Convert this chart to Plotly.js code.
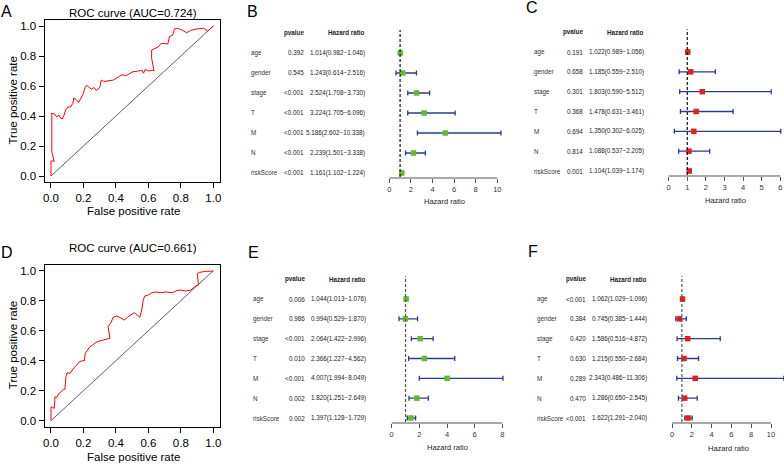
<!DOCTYPE html>
<html>
<head>
<meta charset="utf-8">
<script src="https://cdn.plot.ly/plotly-3.0.1.min.js"></script>
<style>html,body{margin:0;padding:0;background:#fff;}#chart{width:784px;height:464px;}</style>
</head>
<body>
<div id="chart"></div>
<script>
// ---------- DATA ----------
// ROC curve A (AUC=0.724)
const rocA_fpr = [0,0,0.015,0.02,0.01,0.005,0.005,0.025,0.035,0.05,0.06,0.07,0.08,0.09,0.105,0.12,0.135,0.14,0.155,0.17,0.18,0.195,0.21,0.22,0.235,0.25,0.265,0.28,0.30,0.31,0.325,0.355,0.385,0.415,0.435,0.465,0.505,0.54,0.56,0.57,0.58,0.60,0.625,0.635,0.62,0.62,0.64,0.66,0.68,0.70,0.72,0.73,0.75,0.76,0.775,0.805,0.835,0.86,0.895,0.94,0.965,0.985,1];
const rocA_tpr = [0,0.10,0.10,0.095,0.14,0.16,0.42,0.41,0.395,0.405,0.385,0.38,0.405,0.44,0.46,0.46,0.485,0.52,0.51,0.49,0.51,0.54,0.59,0.605,0.59,0.58,0.59,0.57,0.59,0.64,0.63,0.635,0.64,0.66,0.675,0.67,0.695,0.70,0.705,0.685,0.71,0.70,0.705,0.70,0.785,0.84,0.85,0.86,0.885,0.885,0.88,0.93,0.94,0.98,0.985,0.975,0.955,0.97,0.98,0.985,0.965,0.985,1];
// ROC curve D (AUC=0.661)
const rocD_fpr = [0,0,0.01,0.02,0.025,0.035,0.047,0.06,0.076,0.086,0.092,0.10,0.117,0.13,0.143,0.158,0.174,0.195,0.205,0.211,0.225,0.24,0.256,0.277,0.297,0.328,0.363,0.352,0.369,0.383,0.404,0.424,0.451,0.471,0.492,0.512,0.533,0.547,0.559,0.568,0.578,0.60,0.621,0.645,0.676,0.707,0.748,0.773,0.799,0.83,0.861,0.871,0.891,0.908,0.906,0.902,0.916,0.953,0.984,1];
const rocD_tpr = [0,0.093,0.089,0.082,0.16,0.153,0.18,0.19,0.21,0.21,0.293,0.32,0.315,0.34,0.355,0.37,0.393,0.40,0.398,0.449,0.471,0.493,0.504,0.522,0.531,0.538,0.549,0.627,0.653,0.689,0.698,0.689,0.671,0.689,0.704,0.72,0.704,0.689,0.738,0.804,0.831,0.838,0.853,0.858,0.853,0.858,0.853,0.867,0.871,0.864,0.871,0.88,0.898,0.904,0.96,0.982,0.989,0.996,0.996,1];
const diagX = [0,1];
const diagY = [0,1];

// Forest tables
const varNames = ['age','gender','stage','T','M','N','riskScore'];

// B
const pB  = ['0.392','0.545','<0.001','<0.001','<0.001','<0.001','<0.001'];
const hrB = [1.014,1.243,2.524,3.224,5.186,2.239,1.161];
const loB = [0.982,0.614,1.708,1.705,2.602,1.501,1.102];
const hiB = [1.046,2.516,3.730,6.096,10.338,3.338,1.224];
// C
const pC  = ['0.191','0.658','0.301','0.368','0.694','0.814','0.001'];
const hrC = [1.022,1.185,1.803,1.478,1.350,1.088,1.104];
const loC = [0.989,0.559,0.590,0.631,0.302,0.537,1.039];
const hiC = [1.056,2.510,5.512,3.461,6.025,2.205,1.174];
// E
const pE  = ['0.006','0.986','<0.001','0.010','<0.001','0.002','0.002'];
const hrE = [1.044,0.994,2.064,2.366,4.007,1.820,1.397];
const loE = [1.013,0.529,1.422,1.227,1.994,1.251,1.128];
const hiE = [1.076,1.870,2.996,4.562,8.049,2.649,1.729];
// F
const pF  = ['<0.001','0.384','0.420','0.630','0.289','0.470','<0.001'];
const hrF = [1.062,0.745,1.586,1.215,2.343,1.286,1.622];
const loF = [1.029,0.385,0.516,0.550,0.486,0.650,1.291];
const hiF = [1.096,1.444,4.872,2.684,11.306,2.545,2.040];

const ticksB = [0,2,4,6,8,10];
const ticksC = [0,1,2,3,4,5,6];
const ticksE = [0,2,4,6,8];
const ticksF = [0,2,4,6,8,10];

const rocTicks = [0,0.2,0.4,0.6,0.8,1.0];

// ---------- LAYOUT HELPERS ----------
const W = 784, H = 464;
const px = x => x / W;
const py = y => 1 - y / H;
const FONT = 'Liberation Sans, Arial, Helvetica, sans-serif';
const GREEN = '#63b92f', RED = '#e81e1e', NAVY = '#2d3b8e';

const traces = [];
const annotations = [];
const shapes = [];
const layout = {
  width: W, height: H,
  margin: {l:0, r:0, t:0, b:0, pad:0},
  paper_bgcolor: '#fff', plot_bgcolor: 'rgba(0,0,0,0)',
  showlegend: false,
  font: {family: FONT, color: '#000'},
};

function rocAxes(xn, yn, yTop, yBot) {
  layout['xaxis' + xn] = {
    domain: [px(44.5), px(219.8)], range: [-0.04, 1.04], anchor: 'y' + yn,
    showline: true, mirror: true, linecolor: '#000', linewidth: 1,
    ticks: 'outside', ticklen: 5, tickwidth: 1, tickcolor: '#000',
    tickvals: rocTicks, tickformat: '.1f', tickfont: {size: 11.5, color: '#000', family: FONT},
    showgrid: false, zeroline: false, automargin: false, fixedrange: true
  };
  layout['yaxis' + yn] = {
    domain: [py(yBot), py(yTop)], range: [-0.04, 1.04], anchor: 'x' + xn,
    showline: true, mirror: true, linecolor: '#000', linewidth: 1,
    ticks: 'outside', ticklen: 5, tickwidth: 1, tickcolor: '#000',
    tickvals: rocTicks, tickformat: '.1f', tickfont: {size: 11.5, color: '#000', family: FONT},
    showgrid: false, zeroline: false, automargin: false, fixedrange: true
  };
}

function addRoc(n, fpr, tpr, yTop, yBot, title, titleY, xTitleY) {
  const xn = n === 1 ? '' : String(n);
  rocAxes(xn, xn, yTop, yBot);
  const xa = 'x' + xn, ya = 'y' + xn;
  traces.push({type:'scatter', mode:'lines', x: diagX, y: diagY, xaxis: xa, yaxis: ya,
    line: {color:'#333', width: 0.8}, hoverinfo:'skip'});
  traces.push({type:'scatter', mode:'lines', x: fpr, y: tpr, xaxis: xa, yaxis: ya,
    line: {color:'#ff0000', width: 1}, hoverinfo:'skip'});
  annotations.push({xref:'paper', yref:'paper', x: px(133), y: py(titleY), text: title,
    showarrow:false, xanchor:'center', yanchor:'middle', font:{size:11.5, family:FONT, color:'#000'}});
  annotations.push({xref:'paper', yref:'paper', x: px(133), y: py(xTitleY), text: 'False positive rate',
    showarrow:false, xanchor:'center', yanchor:'middle', font:{size:11.5, family:FONT, color:'#000'}});
  annotations.push({xref:'paper', yref:'paper', x: px(12.5), y: py((yTop + yBot) / 2), text: 'True positive rate',
    textangle: -90, showarrow:false, xanchor:'center', yanchor:'middle', font:{size:11.5, family:FONT, color:'#000'}});
}

function fmt(v){ return v.toFixed(3); }

function addForest(n, cfg) {
  const xa = 'x' + n, ya = 'y' + n;
  const rows = cfg.names.map((_, i) => cfg.names.length - i); // age at top
  const vBot = 1 - 5 / cfg.step;
  const vTop = 1 + (cfg.rowBottom - cfg.topPx) / cfg.step;
  const x0 = cfg.zeroPx, s = cfg.unitPx;
  layout['xaxis' + n] = {
    domain: [px(cfg.domL), px(cfg.domR)],
    range: [(cfg.domL - x0) / s, (cfg.domR - x0) / s], anchor: ya,
    showline: false, ticks: 'outside', ticklen: 4, tickwidth: 1, tickcolor: '#555',
    tickvals: cfg.ticks, tickfont: {size: 7.5, color: '#333', family: FONT},
    showgrid: false, zeroline: false, automargin: false, fixedrange: true
  };
  layout['yaxis' + n] = {
    domain: [py(cfg.axisPx), py(cfg.topPx)], range: [vBot, vTop], anchor: xa,
    showline: false, ticks: '', showticklabels: false, showgrid: false, zeroline: false,
    automargin: false, fixedrange: true
  };
  // axis line from first to last tick
  shapes.push({type:'line', xref: xa, yref:'paper', x0: cfg.ticks[0], x1: cfg.ticks[cfg.ticks.length-1],
    y0: py(cfg.axisPx), y1: py(cfg.axisPx), line:{color:'#555', width:1}});
  // dashed reference line at HR = 1
  shapes.push({type:'line', xref: xa, yref: ya, x0: 1, x1: 1, y0: 0.8, y1: 8.15,
    line:{color: cfg.dashColor, width:1.2, dash:'3px,2px'}});
  // markers + CI
  traces.push({type:'scatter', mode:'markers', x: cfg.hr, y: rows, xaxis: xa, yaxis: ya,
    marker: {symbol:'square', size: 5.5, color: cfg.color, line:{width:0}},
    error_x: {type:'data', symmetric:false,
      array: cfg.hr.map((h, i) => cfg.hi[i] - h),
      arrayminus: cfg.hr.map((h, i) => h - cfg.lo[i]),
      color: NAVY, thickness: 1.3, width: 2.5},
    cliponaxis: false, hoverinfo:'skip'});
  // table
  const tf = {size: 6.3, family: FONT, color: '#222'};
  annotations.push({xref:'paper', yref: ya, x: px(cfg.pRight), y: 8, text: '<b>pvalue</b>',
    showarrow:false, xanchor:'right', yanchor:'middle', font: tf});
  annotations.push({xref:'paper', yref: ya, x: px(cfg.hrRight), y: 8, text: '<b>Hazard ratio</b>',
    showarrow:false, xanchor:'right', yanchor:'middle', font: tf});
  cfg.names.forEach((nm, i) => {
    annotations.push({xref:'paper', yref: ya, x: px(cfg.labLeft), y: rows[i], text: nm,
      showarrow:false, xanchor:'left', yanchor:'middle', font: {size: 6.3, family: FONT, color:'#333'}});
    annotations.push({xref:'paper', yref: ya, x: px(cfg.pRight), y: rows[i], text: cfg.p[i],
      showarrow:false, xanchor:'right', yanchor:'middle', font: tf});
    annotations.push({xref:'paper', yref: ya, x: px(cfg.hrRight), y: rows[i],
      text: fmt(cfg.hr[i]) + '(' + fmt(cfg.lo[i]) + '\u2212' + fmt(cfg.hi[i]) + ')',
      showarrow:false, xanchor:'right', yanchor:'middle', font: tf});
  });
  annotations.push({xref:'paper', yref:'paper', x: px(cfg.titleX), y: py(cfg.titleY), text: 'Hazard ratio',
    showarrow:false, xanchor:'center', yanchor:'middle', font:{size:7.5, family:FONT, color:'#222'}});
}

// ---------- PANELS ----------
addRoc(1, rocA_fpr, rocA_tpr, 20, 182, 'ROC curve (AUC=0.724)', 12.5, 211);
addRoc(4, rocD_fpr, rocD_tpr, 264.7, 426.7, 'ROC curve (AUC=0.661)', 247.5, 457);

addForest(2, {names: varNames, p: pB, hr: hrB, lo: loB, hi: hiB, color: GREEN, ticks: ticksB, dashColor: '#111',
  zeroPx: 389.3, unitPx: 10.8, domL: 385, domR: 510, axisPx: 178, topPx: 23, rowBottom: 173, step: 20,
  labLeft: 249, pRight: 306, hrRight: 367, titleX: 445, titleY: 201});
addForest(3, {names: varNames, p: pC, hr: hrC, lo: loC, hi: hiC, color: RED, ticks: ticksC, dashColor: '#111',
  zeroPx: 668.7, unitPx: 18.6, domL: 660, domR: 784, axisPx: 176, topPx: 22, rowBottom: 171, step: 19.83,
  labLeft: 532, pRight: 585, hrRight: 646, titleX: 725, titleY: 200});
addForest(5, {names: varNames, p: pE, hr: hrE, lo: loE, hi: hiE, color: GREEN, ticks: ticksE, dashColor: '#555',
  zeroPx: 391.7, unitPx: 13.825, domL: 385, domR: 520, axisPx: 423, topPx: 268, rowBottom: 418, step: 19.83,
  labLeft: 251, pRight: 307, hrRight: 368, titleX: 447, titleY: 447});
addForest(6, {names: varNames, p: pF, hr: hrF, lo: loF, hi: hiF, color: RED, ticks: ticksF, dashColor: '#555',
  zeroPx: 672, unitPx: 9.9, domL: 665, domR: 784, axisPx: 423, topPx: 268, rowBottom: 418, step: 19.83,
  labLeft: 535, pRight: 588, hrRight: 649, titleX: 728.5, titleY: 448});

// panel letters
const letters = ['A','B','C','D','E','F'];
const letterX = [6.5, 252.5, 532, 6.5, 253.5, 532.5];
const letterY = [12, 12, 7.5, 252.5, 252.5, 251.5];
letters.forEach((L, i) => annotations.push({xref:'paper', yref:'paper', x: px(letterX[i]), y: py(letterY[i]),
  text: L, showarrow:false, xanchor:'center', yanchor:'middle', font:{size:16, family:FONT, color:'#000'}}));

layout.annotations = annotations;
layout.shapes = shapes;

Plotly.newPlot('chart', traces, layout, {staticPlot: true, displayModeBar: false});
</script>
</body>
</html>
